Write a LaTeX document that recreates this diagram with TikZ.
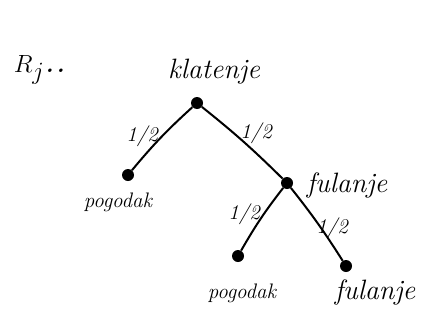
\documentclass[tikz,border=0pt]{standalone}
\begin{document}
\begin{tikzpicture}[x=1pt,y=-1pt,
  dot/.style={circle,fill=black,inner sep=0pt,minimum size=12pt},
  edge/.style={line width=2pt},
  lbl/.style={font=\itshape\fontsize{28}{28}\selectfont},
  small/.style={font=\itshape\fontsize{21}{21}\selectfont},
  prob/.style={font=\itshape\fontsize{21}{21}\selectfont,inner sep=1pt}]
\useasboundingbox (0,0) rectangle (433,324);
\node[font=\itshape\fontsize{36}{36}\selectfont] (rj) at (40,70) {$R_j$..};
\node[dot] (r) at (197,103) {};
\node[dot] (a) at (128,175) {};
\node[dot] (b) at (287,183) {};
\node[dot] (c) at (238,256) {};
\node[dot] (d) at (346,266) {};
\node[lbl] (tr) at (214,72) {klatenje};
\node[small] (ta) at (118,202) {pogodak};
\node[lbl] (tb) at (347,185) {fulanje};
\node[small] (tc) at (242,293) {pogodak};
\node[lbl] (td) at (375,292) {fulanje};
\draw[edge] (r) to[bend right=4] (a);
\draw[edge] (r) to[bend left=3] (b);
\draw[edge] (b) to[bend right=4] (c);
\draw[edge] (b) to[bend left=3] (d);
\node[prob] (p1) at (142,136) {1/2};
\node[prob] (p2) at (256,133) {1/2};
\node[prob] (p3) at (244,214) {1/2};
\node[prob] (p4) at (332,228) {1/2};
\end{tikzpicture}
\end{document}
